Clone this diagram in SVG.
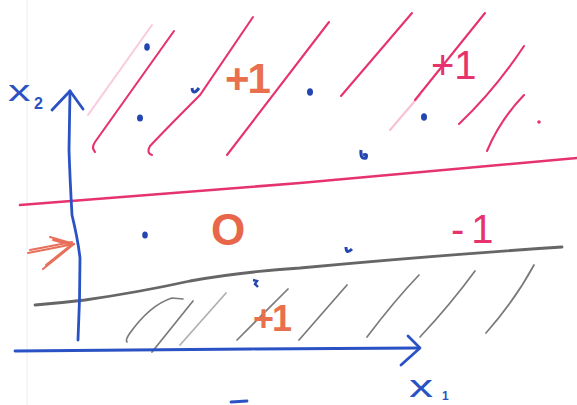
<svg xmlns="http://www.w3.org/2000/svg" width="577" height="405" viewBox="0 0 577 405">
<style>
.blue{stroke:#2a52c4;fill:none;stroke-width:2.8;stroke-linecap:round;stroke-linejoin:round}
.pink{stroke:#e6336e;fill:none;stroke-width:2.1;stroke-linecap:round}
.gray{stroke:#7a7a7a;fill:none;stroke-width:1.7;stroke-linecap:round}
.orange{stroke:#e8705a;fill:none;stroke-width:2;stroke-linecap:round;stroke-linejoin:round}
.dot{fill:#2446b0}
.t{font-family:"Liberation Sans",Arial,sans-serif}
</style>
<rect width="577" height="405" fill="#ffffff"/>
<line x1="27" y1="0" x2="27" y2="405" stroke="#ececec" stroke-width="1"/>
<!-- pink boundary and hatches -->
<path d="M20,205 L300,183 L577,158" stroke="#e6336e" stroke-width="2.6" fill="none" stroke-linecap="round"/>
<g id="pink-hatches">
<line class="pink" x1="88" y1="115" x2="152" y2="25" stroke-opacity="0.25"/>
<path class="pink" d="M95,152 Q91,148 95,142 L174,31"/>
<path class="pink" d="M152,155 Q146,153 150,146 Q170,125 200,95 L253,17"/>
<line class="pink" x1="227" y1="155" x2="329" y2="22"/>
<line class="pink" x1="341" y1="96" x2="412" y2="13"/>
<line class="pink" x1="390" y1="130" x2="420" y2="95" stroke-opacity="0.3"/>
<line class="pink" x1="415" y1="100" x2="485" y2="13"/>
<path class="pink" d="M459,124 Q495,90 524,46"/>
<path class="pink" d="M487,151 Q500,120 524,95"/>
<circle cx="539" cy="122" r="1.8" fill="#e6336e"/>
</g>
<!-- gray boundary and hatches -->
<path d="M35,305 Q60,303 85,300 Q140,292 190,281 Q240,272 300,268 Q440,255 562,247" stroke="#666666" stroke-width="2.8" fill="none" stroke-linecap="round"/>
<g id="gray-hatches">
<path class="gray" d="M127,342 Q125,340 130,333 Q150,305 172,298 L183,299"/>
<line class="gray" x1="152" y1="352" x2="193" y2="301"/>
<line class="gray" x1="180" y1="345" x2="226" y2="293" stroke-opacity="0.6"/>
<line class="gray" x1="237" y1="340" x2="288" y2="289"/>
<line class="gray" x1="299" y1="340" x2="347" y2="285"/>
<path class="gray" d="M367,337 Q395,300 419,275"/>
<path class="gray" d="M420,337 Q450,305 475,271"/>
<path class="gray" d="M486,333 Q515,300 534,265"/>
</g>
<!-- axes -->
<g id="axes">
<path class="blue" d="M78,340 Q80,300 80,258 Q78,240 72,215 Q70,180 69,150 L70,91"/>
<path class="blue" d="M52,110 L70,91 L83,109"/>
<path class="blue" d="M15,351 L250,349 L419,348"/>
<path class="blue" d="M408,336 L420,348 L401,365"/>
<line class="blue" x1="231" y1="402" x2="247" y2="401"/>
</g>
<text class="t" x="8" y="101" font-size="30" fill="#2a52c4" transform="translate(8,101) scale(1.5,1) translate(-8,-101)">x</text>
<text class="t" x="34" y="109" font-size="16" fill="#2a52c4" font-weight="bold">2</text>
<text class="t" x="409" y="397" font-size="32" fill="#2a52c4" transform="translate(409,397) scale(1.5,1) translate(-409,-397)">x</text>
<text class="t" x="442" y="400" font-size="12" fill="#2a52c4" font-weight="bold">1</text>
<!-- data points -->
<g id="points">
<ellipse class="dot" cx="147" cy="47" rx="2.8" ry="3.8"/>
<ellipse class="dot" cx="140" cy="118" rx="3" ry="3.5"/>
<path d="M192,88 Q193,96 199,88" stroke="#2446b0" stroke-width="3" fill="none"/>
<ellipse class="dot" cx="310" cy="92" rx="3" ry="3.8"/>
<ellipse class="dot" cx="424" cy="117" rx="3" ry="3.8"/>
<path d="M361,150 Q360,160 366,158 Q368,153 363,155" stroke="#2446b0" stroke-width="3" fill="none"/>
<ellipse class="dot" cx="145" cy="235" rx="2.8" ry="3.5"/>
<path d="M346,247 Q346,255 352,249" stroke="#2446b0" stroke-width="3" fill="none"/>
<path d="M253,280 L257,281 L255,284 L258,287" stroke="#2446b0" stroke-width="2.4" fill="none"/>
</g>
<!-- labels -->
<text class="t" x="225" y="93" font-size="42" fill="#e8704e" font-weight="bold" letter-spacing="-2">+1</text>
<text class="t" x="431" y="79" font-size="40" fill="#e6336e">+1</text>
<text class="t" x="451" y="243" font-size="40" fill="#e6336e" letter-spacing="7">-1</text>
<text class="t" x="253" y="331" font-size="36" fill="#e8704e" font-weight="bold" letter-spacing="-2">+1</text>
<text class="t" x="211" y="245" font-size="44" fill="#e8664a" font-weight="bold">O</text>
<!-- orange arrow -->
<g id="arrow">
<path class="orange" d="M28,253 L74,244 M30,250 L72,242"/>
<path class="orange" d="M50,237 L74,244 L43,269 M53,240 L71,245 L46,265"/>
</g>
</svg>
